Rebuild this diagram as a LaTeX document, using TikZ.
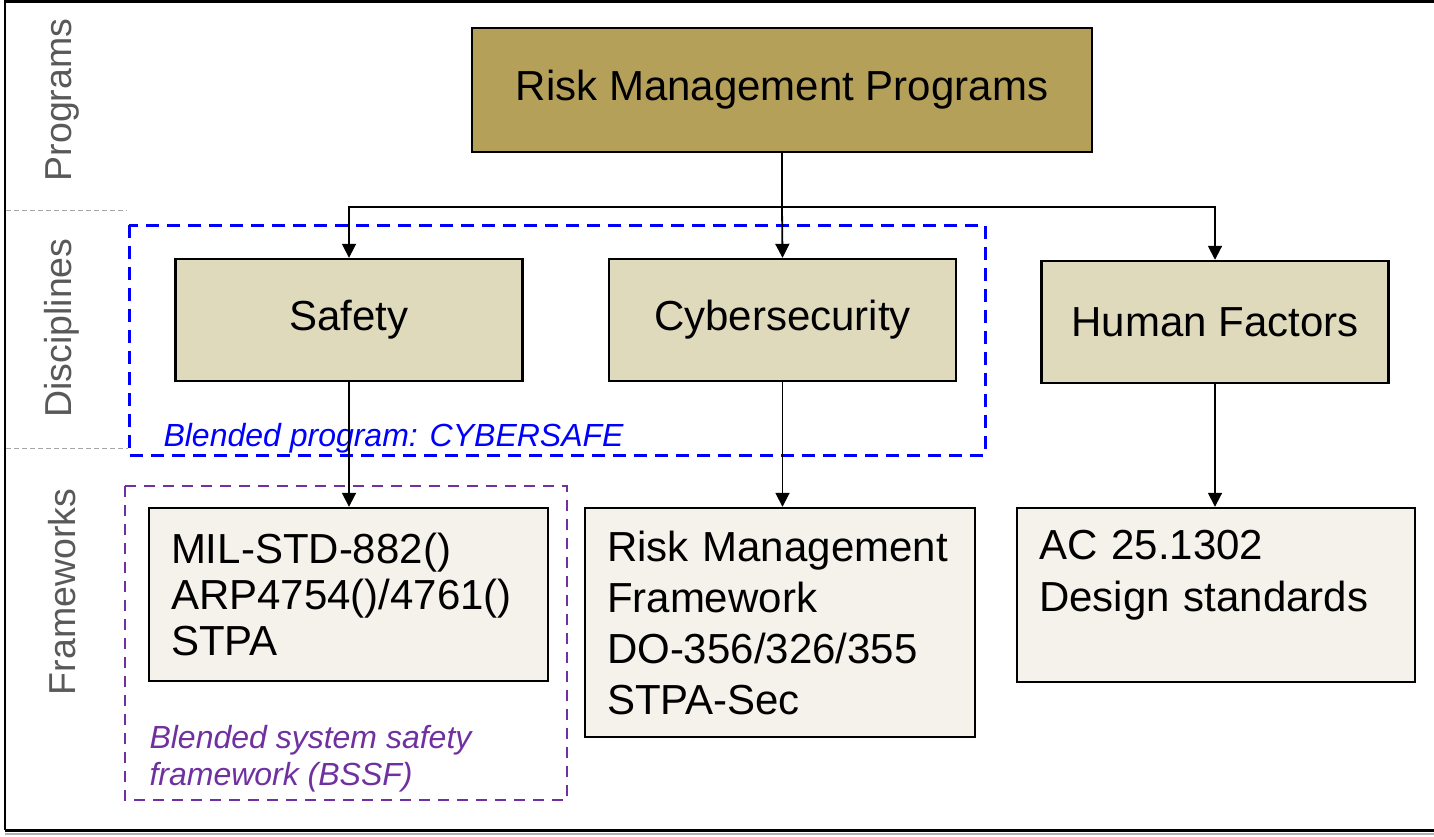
\documentclass[tikz,border=0pt]{standalone}
\usepackage{fontspec}
\setmainfont{Liberation Sans}
\usetikzlibrary{arrows.meta,positioning}

\definecolor{progfill}{HTML}{B5A05A}
\definecolor{discfill}{HTML}{E0DABD}
\definecolor{frmfill}{HTML}{F4F2EB}
\definecolor{layergray}{HTML}{595959}
\definecolor{blendblue}{HTML}{0000FF}
\definecolor{blendpurple}{HTML}{7030A0}

\tikzset{
  boxbase/.style={draw=black, line width=2.4pt, rectangle, inner sep=0pt},
  progbox/.style={boxbase, fill=progfill, minimum width=620pt, minimum height=124pt,
    font=\fontsize{42}{46}\selectfont},
  discbox/.style={boxbase, fill=discfill, minimum width=347pt, minimum height=122pt,
    font=\fontsize{42}{46}\selectfont},
  frmbox/.style={boxbase, fill=frmfill, inner xsep=22pt, align=left,
    font=\fontsize{42}{46}\selectfont},
  conn/.style={draw=black, line width=1.8pt, -{Triangle[width=14pt,length=14pt]}},
  layerlabel/.style={rotate=90, text=layergray, font=\fontsize{37.5}{40}\selectfont},
  layersep/.style={draw=gray!70, line width=1pt, dash pattern=on 5pt off 3pt},
  blendbox/.style={line width=3pt, dash pattern=on 13pt off 8pt},
}

\begin{document}
\begin{tikzpicture}[x=1pt,y=-1pt]
\useasboundingbox (0,0) rectangle (1434,836);

% outer frame
\draw[line width=2.5pt] (1434,1.5) -- (5,1.5) -- (5,830);
\draw[gray!60, line width=2pt] (5,833.5) -- (1434,833.5);
\draw[line width=3pt] (5,830.5) -- (1434,830.5);

% layer separators and labels
\draw[layersep] (6,210) -- (127,210);
\draw[layersep] (6,448) -- (128,448);
\node[layerlabel] (lprog) at (62,100) {Programs};
\node[layerlabel] (ldisc) at (62,328) {Disciplines};
\node[layerlabel] (lfrm) at (62,592) {Frameworks};

% blended groupings
\draw[blendbox, draw=blendblue] (129,225) rectangle (985,455);
\node[anchor=base west, text=blendblue, font=\fontsize{32}{36}\itshape] (cybersafe)
  at (160,446) {Blended program: CYBERSAFE};
\draw[blendbox, draw=blendpurple, line width=2.8pt, dash pattern=on 11pt off 8pt]
  (125,486) rectangle (567,800);
\node[anchor=base west, text=blendpurple, align=left,
  font=\fontsize{32}{37}\itshape] (bssf)
  at (146,785) {Blended system safety\\framework (BSSF)};

% program level
\node[progbox] (prog) at (782,90) {Risk Management Programs};

% disciplines
\node[discbox] (safety) at (349,320) {Safety};
\node[discbox] (cyber) at (782.5,320) {Cybersecurity};
\node[discbox] (hf) at (1215,322) {Human Factors};

% frameworks
\node[frmbox, text width=355pt, minimum height=173pt] (fsafe) at (348.5,594.5)
  {MIL-STD-882()\\ARP4754()/4761()\\STPA};
\node[frmbox, text width=346pt, minimum height=229pt, font=\fontsize{42}{51}\selectfont]
  (fcyber) at (780,622.5)
  {Risk Management\\Framework\\DO-356/326/355\\STPA-Sec};
\node[frmbox, text width=354pt, minimum height=174pt, font=\fontsize{42}{52}\selectfont]
  (fhf) at (1216,595)
  {AC 25.1302\\Design standards\\[-20pt]\strut};

% connectors
\coordinate (bus) at (782,207);
\draw[conn] (prog.south) -- (bus) -| (safety.north);
\draw[conn] (bus) -- (cyber.north);
\draw[conn] (bus) -| (hf.north);
\draw[conn] (safety.south) -- (safety.south |- fsafe.north);
\draw[conn] (cyber.south) -- (cyber.south |- fcyber.north);
\draw[conn] (hf.south) -- (hf.south |- fhf.north);
\end{tikzpicture}
\end{document}
